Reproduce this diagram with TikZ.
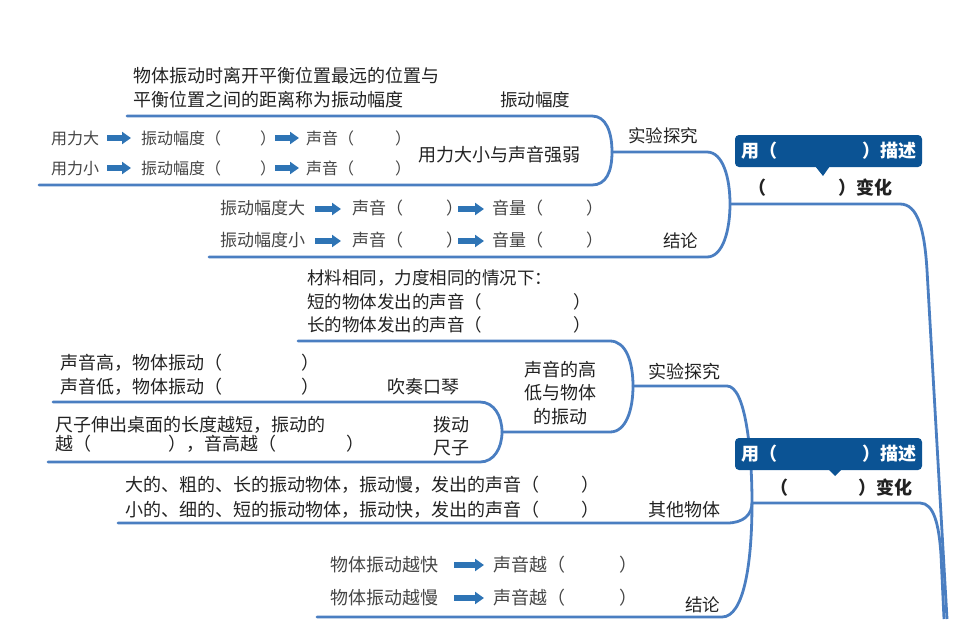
\documentclass[tikz,border=0pt]{standalone}
\usepackage{fontspec}
\setmainfont{Noto Sans CJK SC}
\usetikzlibrary{arrows.meta}
\definecolor{linec}{HTML}{4A7EC1}
\definecolor{boxc}{HTML}{0B5394}
\definecolor{arrc}{HTML}{2E74B5}
\definecolor{txt}{HTML}{222222}
\definecolor{ltxt}{HTML}{454545}
\begin{document}
\begin{tikzpicture}[x=1pt,y=-1pt,
  br/.style={draw=linec, line width=2.8pt, line cap=round},
  blk/.style={draw=arrc, line width=6pt, -{Triangle[length=9pt,width=12pt]}},
  lab/.style={inner sep=0pt, anchor=west, text=txt, font=\fontsize{18}{18}\selectfont, text height=15.8pt, text depth=2.2pt},
  labs/.style={inner sep=0pt, anchor=west, text=txt, font=\fontsize{17.5}{17.5}\selectfont, text height=15.4pt, text depth=2.1pt},
  lta/.style={inner sep=0pt, anchor=west, text=ltxt, font=\fontsize{16}{16}\selectfont, text height=14.1pt, text depth=1.9pt},
  ltb/.style={inner sep=0pt, anchor=west, text=ltxt, font=\fontsize{17}{17}\selectfont, text height=15pt, text depth=2pt},
  ltc/.style={inner sep=0pt, anchor=west, text=ltxt, font=\fontsize{18}{18}\selectfont, text height=15.8pt, text depth=2.2pt},
  bld/.style={inner sep=0pt, anchor=west, text=txt, font=\fontsize{18}{18}\selectfont\bfseries, text height=15.8pt, text depth=2.2pt},
  boxn/.style={fill=boxc, rounded corners=4pt, minimum width=187pt, minimum height=32pt, inner sep=0pt, text=white, font=\fontsize{18}{18}\selectfont\bfseries, text height=15.8pt, text depth=2.2pt}
]
\useasboundingbox (0,0) rectangle (975,619);

% ---------------- coordinates ----------------
\coordinate (A1) at (127,116);
\coordinate (A2) at (592,116);
\coordinate (Atip) at (612,152);
\coordinate (A3) at (592,185);
\coordinate (A4) at (39,185);
\coordinate (B1) at (707,152);
\coordinate (J1) at (730,204);
\coordinate (B2) at (707,257);
\coordinate (B3) at (209,257);
\coordinate (M1) at (900,204);
\coordinate (M2) at (927,270);
\coordinate (M3) at (947,619);

\coordinate (C1) at (298,341);
\coordinate (C2) at (610,341);
\coordinate (Ctip) at (633,386);
\coordinate (C3) at (610,432);
\coordinate (D1) at (53,402);
\coordinate (D2) at (480,402);
\coordinate (Dtip) at (502,432);
\coordinate (D3) at (480,462);
\coordinate (D4) at (48,462);
\coordinate (E1) at (727,386);
\coordinate (J2) at (752,503);
\coordinate (F1) at (118,523);
\coordinate (F2) at (727,523);
\coordinate (G1) at (722,617);
\coordinate (G2) at (317,617);
\coordinate (H1) at (920,503);
\coordinate (H2) at (941,555);
\coordinate (H3) at (944,619);

% ---------------- branch lines ----------------
\draw[br] (A1) -- (A2) .. controls +(14,0) and +(0,-20) .. (Atip) .. controls +(0,20) and +(14,0) .. (A3) -- (A4);
\draw[br] (Atip) -- (B1) .. controls +(16,0) and +(0,-26) .. (J1) .. controls +(0,26) and +(16,0) .. (B2) -- (B3);
\draw[br, line cap=butt] (J1) -- (M1) .. controls +(18,0) and +(-2.5,-40) .. (M2) -- (M3);

\draw[br] (C1) -- (C2) .. controls +(16,0) and +(0,-24) .. (Ctip) .. controls +(0,24) and +(16,0) .. (C3) -- (Dtip);
\draw[br] (D1) -- (D2) .. controls +(14,0) and +(0,-16) .. (Dtip) .. controls +(0,16) and +(14,0) .. (D3) -- (D4);
\draw[br] (Ctip) -- (E1) .. controls +(18,0) and +(0,-55) .. (J2);
\draw[br] (F1) -- (F2) .. controls +(16,0) and +(0,12) .. (J2);
\draw[br] (J2) .. controls +(0,60) and +(22,0) .. (G1) -- (G2);
\draw[br, line cap=butt] (J2) -- (H1) .. controls +(14,0) and +(-2,-30) .. (H2) -- (H3);

% ---------------- top part ----------------
\node[lab] (t1) at (133,76) {物体振动时离开平衡位置最远的位置与};
\node[lab] (t2) at (133,100) {平衡位置之间的距离称为振动幅度};
\node[labs] (zdfd) at (500,100) {振动幅度};
\node[lab] (qr) at (418,155) {用力大小与声音强弱};
\node[labs] (sy1) at (628,136) {实验探究};
\node[labs] (jl1) at (663,241) {结论};

\node[lta] (r1a) at (51,138) {用力大};
\node[lta] (r1b) at (141,138) {振动幅度（\hspace{39pt}）};
\node[lta] (r1c) at (306,138) {声音（\hspace{41pt}）};
\node[lta] (r2a) at (51,168) {用力小};
\node[lta] (r2b) at (141,168) {振动幅度（\hspace{39pt}）};
\node[lta] (r2c) at (306,168) {声音（\hspace{41pt}）};
\coordinate (a11) at (107,138); \coordinate (a12) at (131,138);
\coordinate (a13) at (275,138); \coordinate (a14) at (299,138);
\coordinate (a21) at (107,168); \coordinate (a22) at (131,168);
\coordinate (a23) at (275,168); \coordinate (a24) at (299,168);
\draw[blk] (a11) -- (a12);
\draw[blk] (a13) -- (a14);
\draw[blk] (a21) -- (a22);
\draw[blk] (a23) -- (a24);

\node[ltb] (r3a) at (220,208) {振动幅度大};
\node[ltb] (r3b) at (352,208) {声音（\hspace{43pt}）};
\node[ltb] (r3c) at (492,208) {音量（\hspace{43pt}）};
\node[ltb] (r4a) at (220,240) {振动幅度小};
\node[ltb] (r4b) at (352,240) {声音（\hspace{43pt}）};
\node[ltb] (r4c) at (492,240) {音量（\hspace{43pt}）};
\coordinate (a31) at (315,209); \coordinate (a32) at (341,209);
\coordinate (a33) at (458,209); \coordinate (a34) at (484,209);
\coordinate (a41) at (315,241); \coordinate (a42) at (341,241);
\coordinate (a43) at (458,241); \coordinate (a44) at (484,241);
\draw[blk] (a31) -- (a32);
\draw[blk] (a33) -- (a34);
\draw[blk] (a41) -- (a42);
\draw[blk] (a43) -- (a44);

% box 1
\node[boxn] (box1) at (828.5,151) {用（\hspace{85pt}）描述};
\fill[boxc] (815,166) -- (830,166) -- (823,176) -- cycle;
\node[bld] (bh1) at (748,188) {（\hspace{72pt}）变化};

% ---------------- middle part ----------------
\node[labs] (m1) at (307,278) {材料相同，力度相同的情况下：};
\node[labs] (m2) at (307,302) {短的物体发出的声音（\hspace{91pt}）};
\node[labs] (m3) at (307,325) {长的物体发出的声音（\hspace{91pt}）};
\node[lab] (m4) at (60,363) {声音高，物体振动（\hspace{79pt}）};
\node[lab] (m5) at (60,387) {声音低，物体振动（\hspace{79pt}）};
\node[lab] (cz) at (387,387) {吹奏口琴};
\node[lab] (m6) at (55,425) {尺子伸出桌面的长度越短，振动的};
\node[lab] (m7) at (55,444) {越（\hspace{77pt}），音高越（\hspace{70pt}）};
\node[lab] (bd1) at (433,425) {拨动};
\node[lab] (bd2) at (433,448) {尺子};
\node[lab, anchor=center] (sg1) at (560,370) {声音的高};
\node[lab, anchor=center] (sg2) at (560,393) {低与物体};
\node[lab, anchor=center] (sg3) at (560,417) {的振动};
\node[lab] (sy2) at (648,372) {实验探究};

% box 2
\node[boxn] (box2) at (828.5,454) {用（\hspace{85pt}）描述};
\fill[boxc] (828,469) -- (842,469) -- (835,476) -- cycle;
\node[bld] (bh2) at (770,488) {（\hspace{70pt}）变化};

% ---------------- bottom part ----------------
\node[lab] (b1) at (125,485) {大的、粗的、长的振动物体，振动慢，发出的声音（\hspace{42pt}）};
\node[lab] (b2) at (125,510) {小的、细的、短的振动物体，振动快，发出的声音（\hspace{42pt}）};
\node[lab] (qt) at (648,510) {其他物体};
\node[ltc] (b3) at (330,565) {物体振动越快};
\node[ltc] (b4) at (493,565) {声音越（\hspace{54pt}）};
\node[ltc] (b5) at (330,598) {物体振动越慢};
\node[ltc] (b6) at (493,598) {声音越（\hspace{54pt}）};
\coordinate (a51) at (454,565); \coordinate (a52) at (484,565);
\coordinate (a61) at (454,598); \coordinate (a62) at (484,598);
\draw[blk] (a51) -- (a52);
\draw[blk] (a61) -- (a62);
\node[labs] (jl2) at (685,605) {结论};
\end{tikzpicture}
\end{document}
